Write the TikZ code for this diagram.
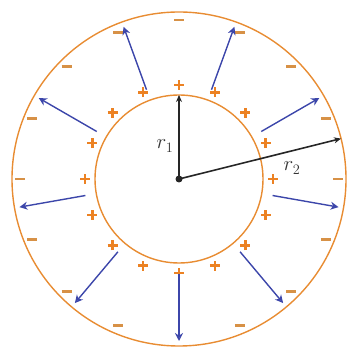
\documentclass[tikz,border=0pt]{standalone}
\usetikzlibrary{arrows.meta}
\definecolor{ring}{RGB}{232,140,50}
\definecolor{chg}{RGB}{236,130,35}
\definecolor{neg}{RGB}{215,145,70}
\definecolor{field}{RGB}{60,70,170}
\tikzset{
  ringline/.style={draw=ring,line width=1.4pt},
  fieldarrow/.style={draw=field,line width=1.4pt,-{Stealth[length=8pt,width=8pt,open]}},
  radline/.style={draw=black!85,line width=1.6pt,-{Stealth[length=7pt,width=6pt]}},
  plussign/.style={draw=chg,line width=2.8pt},
  minussign/.style={draw=neg,line width=2.8pt},
  lbl/.style={font=\fontsize{21}{24}\selectfont,text=black!80,inner sep=0pt}
}
\begin{document}
\begin{tikzpicture}[x=1pt,y=1pt]
\useasboundingbox (0,0) rectangle (346,348);
\coordinate (O) at (179,169);
\draw[ringline] (O) circle (84);
\draw[ringline] (O) circle (167);
% plus charges
\foreach \a in {0,22.5,...,337.5}{
  \path (O) ++(\a:94) coordinate (p);
  \draw[plussign] ([xshift=-5pt]p) -- ([xshift=5pt]p);
  \draw[plussign] ([yshift=-5pt]p) -- ([yshift=5pt]p);
}
% minus charges
\foreach \a in {0,22.5,...,247.5,292.5,315,337.5}{
  \path (O) ++(\a:159) coordinate (m);
  \draw[minussign] ([xshift=-5pt]m) -- ([xshift=5pt]m);
}
% field arrows
\foreach \a in {270,310,350,30,70,110,150,190,230}{
  \path (O) ++(\a:95) coordinate (s) (O) ++(\a:162) coordinate (e);
  \draw[fieldarrow] (s) -- (e);
}
% radii
\path (O) ++(90:84) coordinate (R1end);
\path (O) ++(14:167) coordinate (R2end);
\draw[radline] (O) -- (R1end);
\draw[radline] (O) -- (R2end);
\fill[black!85] (O) circle (3.5);
\node[lbl] (l1) at (165,202) {$r_1$};
\node[lbl] (l2) at (292,180) {$r_2$};
\end{tikzpicture}
\end{document}
